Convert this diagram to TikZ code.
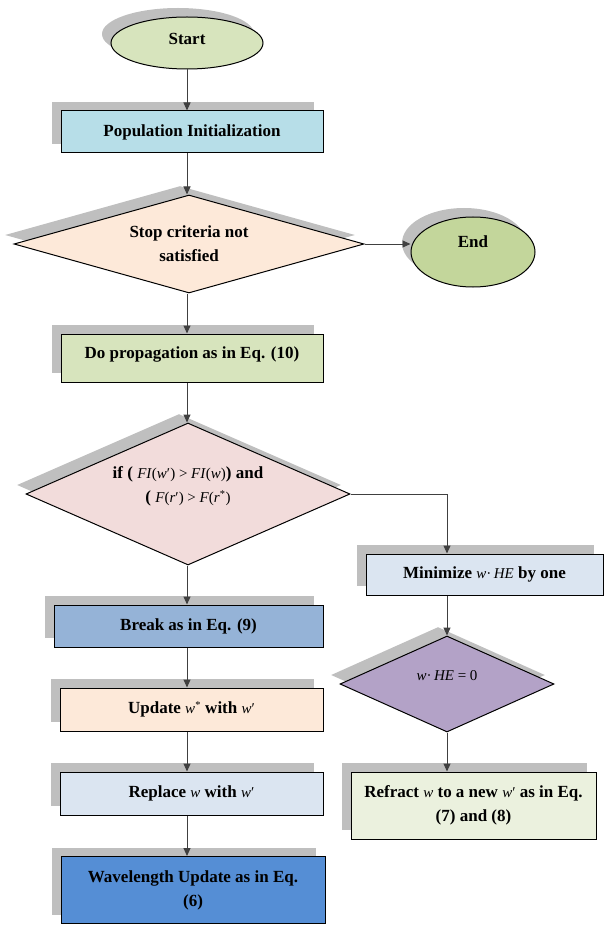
\documentclass[tikz,border=0pt]{standalone}
\usepackage{fontspec}
\setmainfont{Liberation Serif}
\usetikzlibrary{shapes.geometric,shadows,arrows.meta,calc}

\definecolor{startgreen}{HTML}{D7E4BD}
\definecolor{endgreen}{HTML}{C3D69B}
\definecolor{initblue}{HTML}{B7DEE8}
\definecolor{peach}{HTML}{FDE9D9}
\definecolor{rose}{HTML}{F2DCDB}
\definecolor{paleblue}{HTML}{DBE5F1}
\definecolor{midblue}{HTML}{95B3D7}
\definecolor{deepblue}{HTML}{558ED5}
\definecolor{lilac}{HTML}{B3A2C7}
\definecolor{palegreen}{HTML}{EBF1DE}
\definecolor{shgray}{HTML}{BFBFBF}
\definecolor{linegray}{HTML}{404040}

\newcommand{\eqpart}[1]{{\normalfont\fontsize{15}{24}\selectfont #1}}
\newcommand{\lift}[2]{\raisebox{#1}[\height][\depth]{#2}}

\begin{document}
\begin{tikzpicture}[x=1pt,y=-1pt]

\tikzset{base/.style={draw=black, line width=1pt, inner sep=0pt,
    font=\bfseries\fontsize{17}{24}\selectfont,
    general shadow={shadow xshift=-9pt, shadow yshift=9pt, fill=shgray}},
  process/.style={base, rectangle},
  decision/.style={base, diamond},
  terminal/.style={base, ellipse},
  flow/.style={draw=linegray, line width=1pt, -{Triangle[length=8pt,width=7pt]}}}

\useasboundingbox (0,0) rectangle (604,925);

% left column
\node[terminal, fill=startgreen, minimum width=152pt, minimum height=52pt] (start) at (187,43) {\lift{4pt}{Start}};
\node[process, fill=initblue, minimum width=262pt, minimum height=42pt] (popinit) at (192,132) {Population Initialization};
\node[decision, fill=peach, aspect=3.57, minimum width=350pt, minimum height=98pt, align=center] (stopc) at (189,244) {Stop criteria not\\satisfied};
\node[terminal, fill=endgreen, minimum width=124pt, minimum height=70pt] (endn) at (473,252) {\lift{10pt}{End}};
\node[process, fill=startgreen, minimum width=262pt, minimum height=48pt] (doprop) at (192,358) {\lift{4pt}{Do propagation as in Eq. (10)}};
\node[decision, fill=rose, aspect=2.28, minimum width=324pt, minimum height=142pt] (ifc) at (188,494)
  {\lift{8pt}{\begin{tabular}{@{}c@{}}if ( \eqpart{\textit{FI}(\textit{w}′) > \textit{FI}(\textit{w})}) and\\( \eqpart{\textit{F}(\textit{r}′) > \textit{F}(\textit{r}\textsuperscript{*})}\end{tabular}}};
\node[process, fill=midblue, minimum width=269pt, minimum height=42pt] (breakn) at (188.5,626) {Break as in Eq. (9)};
\node[process, fill=peach, minimum width=263pt, minimum height=43pt] (update) at (191.5,709.5) {Update \eqpart{\textit{w}\textsuperscript{*}} with \eqpart{\textit{w}′}};
\node[process, fill=paleblue, minimum width=263pt, minimum height=43pt] (replace) at (191.5,793.5) {Replace \eqpart{\textit{w}} with \eqpart{\textit{w}′}};
\node[process, fill=deepblue, minimum width=264pt, minimum height=67pt, align=center] (wavelen) at (193,890) {Wavelength Update as in Eq.\\(6)};

% right column
\node[process, fill=paleblue, minimum width=237pt, minimum height=41pt] (minim) at (484.5,574.5) {Minimize \eqpart{\textit{w}·\,\textit{HE}} by one};
\node[decision, fill=lilac, aspect=2.23, minimum width=214pt, minimum height=96pt] (zero) at (447,684) {\lift{8pt}{\eqpart{\textit{w}·\,\textit{HE} = 0}}};
\node[process, fill=palegreen, minimum width=245pt, minimum height=67pt, align=center] (refract) at (473.5,805.5) {Refract \eqpart{\textit{w}} to a new \eqpart{\textit{w}′} as in Eq.\\(7) and (8)};

\draw[flow] (start.south) -- (popinit.north -| start.south);
\draw[flow] (popinit.south -| start) -- (stopc.north -| start);
\draw[flow] (stopc.east) -- (endn.west |- stopc.east);
\draw[flow] (stopc.south -| start) -- (doprop.north -| start);
\draw[flow] (doprop.south -| start) -- (ifc.north -| start);
\draw[flow] (ifc.south -| start) -- (breakn.north -| start);
\foreach \a/\b in {breakn/update, update/replace, replace/wavelen}
{
\draw[flow] (\a.south -| start) -- (\b.north -| start);
}
\draw[flow] (ifc.east) -| (zero.north |- minim.north);
\draw[flow] (minim.south -| zero.north) -- (zero.north);
\draw[flow] (zero.south) -- (refract.north -| zero.south);

\end{tikzpicture}
\end{document}
